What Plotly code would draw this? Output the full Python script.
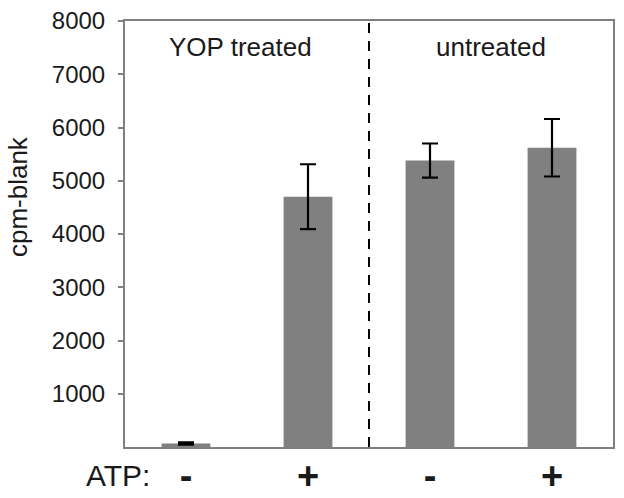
import plotly.graph_objects as go

categories = [0, 1, 2, 3]
atp_labels = ["-", "+", "-", "+"]
values = [65, 4700, 5380, 5620]
errors = [20, 610, 320, 540]
group_labels = ["YOP treated", "untreated"]
group_centers = [0.45, 2.5]
y_ticks = [1000, 2000, 3000, 4000, 5000, 6000, 7000, 8000]

FONT = "Liberation Sans, Arial, Helvetica, sans-serif"
GRAY = "#808080"
TXT = "#1a1a1a"

fig = go.Figure()
fig.add_trace(go.Bar(
    x=categories, y=values, width=0.4,
    marker=dict(color=GRAY, line=dict(width=0)),
    error_y=dict(type="data", array=errors, visible=True, color="black", thickness=2.2, width=8),
))

fig.add_shape(type="line", x0=1.5, x1=1.5, y0=0, y1=8000, xref="x", yref="y",
              line=dict(color="black", width=2, dash="10px,8px"))

for lbl, cx in zip(group_labels, group_centers):
    fig.add_annotation(x=cx, y=7510, xref="x", yref="y", text=lbl, showarrow=False,
                       font=dict(size=26, color=TXT, family=FONT))

fig.add_annotation(x=0, y=0, xref="paper", yref="paper", text="ATP:", showarrow=False,
                   xanchor="right", yanchor="top", xshift=27, yshift=-10,
                   font=dict(size=30, color=TXT, family=FONT))

fig.add_annotation(x=-0.219, y=0.587, xref="paper", yref="paper", text="cpm-blank",
                   showarrow=False, textangle=-90, xanchor="center", yanchor="middle",
                   font=dict(size=26, color=TXT, family=FONT))

fig.update_layout(
    width=624, height=498,
    margin=dict(l=125, r=11, t=21, b=51),
    paper_bgcolor="white", plot_bgcolor="white",
    showlegend=False,
    font=dict(family=FONT, color=TXT),
    xaxis=dict(range=[-0.5, 3.5], tickvals=categories,
               ticktext=["<b>%s</b>" % t for t in atp_labels],
               tickfont=dict(size=38, color=TXT), ticklabelstandoff=-6,
               showgrid=False, zeroline=False, showline=True, linecolor=GRAY, linewidth=2,
               mirror=True, ticks="", automargin=False),
    yaxis=dict(range=[0, 8000], tickvals=y_ticks, ticks="outside", ticklen=5, tickcolor=GRAY,
               tickwidth=1.5, tickfont=dict(size=24, color=TXT), ticklabelstandoff=8,
               showgrid=False, zeroline=False, showline=True, linecolor=GRAY, linewidth=2,
               mirror=True, automargin=False),
)

fig.write_html("out.html", config={"displayModeBar": False},
               post_script="document.body.style.margin='0';")
